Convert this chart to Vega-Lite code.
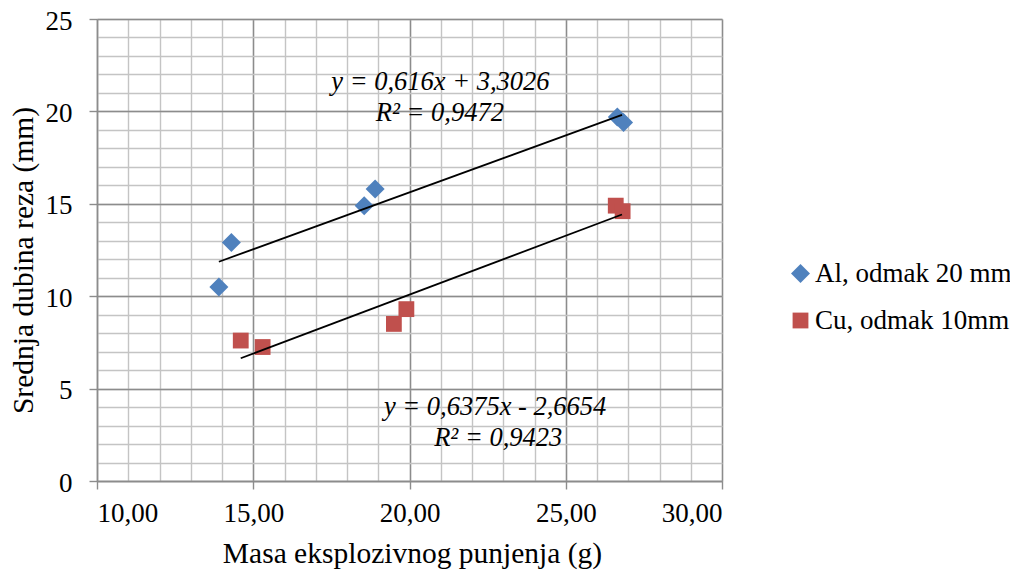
{
  "$schema": "https://vega.github.io/schema/vega-lite/v6.json",
  "width": 625,
  "height": 462,
  "autosize": {"type": "none"},
  "padding": {"left": 97, "top": 19, "right": 288, "bottom": 93},
  "background": "white",
  "config": {
    "view": {"stroke": null},
    "font": "'Liberation Serif', 'Times New Roman', serif",
    "axis": {"labelFont": "'Liberation Serif', 'Times New Roman', serif", "titleFont": "'Liberation Serif', 'Times New Roman', serif", "labelColor": "#000000", "titleColor": "#000000", "titleFontWeight": "normal"},
    "legend": {"labelFont": "'Liberation Serif', 'Times New Roman', serif", "labelColor": "#000000"}
  },
  "datasets": {
    "points": [
      {"serija": "Al, odmak 20 mm", "masa": 13.9, "dubina": 10.5},
      {"serija": "Al, odmak 20 mm", "masa": 14.3, "dubina": 12.9},
      {"serija": "Al, odmak 20 mm", "masa": 18.55, "dubina": 14.9},
      {"serija": "Al, odmak 20 mm", "masa": 18.9, "dubina": 15.8},
      {"serija": "Al, odmak 20 mm", "masa": 26.65, "dubina": 19.7},
      {"serija": "Al, odmak 20 mm", "masa": 26.85, "dubina": 19.4},
      {"serija": "Cu, odmak 10mm", "masa": 14.6, "dubina": 7.6},
      {"serija": "Cu, odmak 10mm", "masa": 15.3, "dubina": 7.25},
      {"serija": "Cu, odmak 10mm", "masa": 19.5, "dubina": 8.5},
      {"serija": "Cu, odmak 10mm", "masa": 19.9, "dubina": 9.3},
      {"serija": "Cu, odmak 10mm", "masa": 26.6, "dubina": 14.9},
      {"serija": "Cu, odmak 10mm", "masa": 26.82, "dubina": 14.6}
    ],
    "trend": [
      {"serija": "Al, odmak 20 mm", "masa": 13.9, "dubina": 11.865},
      {"serija": "Al, odmak 20 mm", "masa": 26.8, "dubina": 19.81},
      {"serija": "Cu, odmak 10mm", "masa": 14.6, "dubina": 6.642},
      {"serija": "Cu, odmak 10mm", "masa": 26.8, "dubina": 14.42}
    ],
    "labels": [
      {"masa": 20.99, "dubina": 21.61, "tekst": "y = 0,616x + 3,3026"},
      {"masa": 20.97, "dubina": 19.91, "tekst": "R² = 0,9472"},
      {"masa": 22.74, "dubina": 4.02, "tekst": "y = 0,6375x - 2,6654"},
      {"masa": 22.84, "dubina": 2.33, "tekst": "R² = 0,9423"}
    ]
  },
  "layer": [
    {
      "data": {"name": "points"},
      "mark": {"type": "point", "filled": true, "opacity": 1, "strokeWidth": 0},
      "encoding": {
        "x": {"field": "masa", "type": "quantitative", "scale": {"domain": [10, 30], "nice": false, "zero": false},
          "axis": {"orient": "bottom", "values": [10,11,12,13,14,15,16,17,18,19,20,21,22,23,24,25,26,27,28,29,30], "grid": true, "gridColor": "#c4c4c4", "gridWidth": 1.4, "labels": false, "ticks": false, "domain": false, "title": null}},
        "y": {"field": "dubina", "type": "quantitative", "scale": {"domain": [0, 25], "nice": false, "zero": false},
          "axis": {"orient": "left", "values": [0,1,2,3,4,5,6,7,8,9,10,11,12,13,14,15,16,17,18,19,20,21,22,23,24,25], "grid": true, "gridColor": "#c4c4c4", "gridWidth": 1.4, "labels": false, "ticks": false, "domain": false, "title": null}},
        "color": {"field": "serija", "type": "nominal", "title": null,
          "scale": {"domain": ["Al, odmak 20 mm", "Cu, odmak 10mm"], "range": ["#4F81BD", "#C0504D"]},
          "legend": {"orient": "none", "legendX": 690, "legendY": 241, "labelFontSize": 27, "symbolSize": 240, "symbolOpacity": 1, "symbolStrokeWidth": 0, "labelOffset": 1, "rowPadding": 19, "padding": 0, "labelLimit": 400}},
        "shape": {"field": "serija", "type": "nominal", "title": null,
          "scale": {"domain": ["Al, odmak 20 mm", "Cu, odmak 10mm"], "range": ["diamond", "square"]}},
        "size": {"field": "serija", "type": "nominal", "legend": null,
          "scale": {"domain": ["Al, odmak 20 mm", "Cu, odmak 10mm"], "range": [360, 250]}}
      }
    },
    {
      "data": {"name": "trend"},
      "mark": {"type": "line", "color": "#000000", "strokeWidth": 1.8},
      "encoding": {
        "x": {"field": "masa", "type": "quantitative",
          "axis": {"orient": "bottom", "values": [10, 15, 20, 25, 30], "grid": true, "gridColor": "#8c8c8c", "gridWidth": 1.4, "domain": true, "domainColor": "#8c8c8c", "domainWidth": 1.4, "ticks": true, "tickSize": 8, "tickColor": "#8c8c8c", "tickWidth": 1.4, "labelFontSize": 27, "labelPadding": 11, "labelExpr": "replace(format(datum.value, '.2f'), '.', ',')", "title": "Masa eksplozivnog punjenja (g)", "titleFontSize": 29.5, "titleX": 315, "titleY": 81, "titleBaseline": "alphabetic", "titleAlign": "center"}},
        "y": {"field": "dubina", "type": "quantitative",
          "axis": {"orient": "left", "values": [0, 5, 10, 15, 20, 25], "grid": true, "gridColor": "#8c8c8c", "gridWidth": 1.4, "domain": true, "domainColor": "#8c8c8c", "domainWidth": 1.4, "ticks": true, "tickSize": 8, "tickColor": "#8c8c8c", "tickWidth": 1.4, "labelFontSize": 27, "labelPadding": 17, "labelOffset": 2, "format": "d", "title": "Srednja dubina reza (mm)", "titleFontSize": 29.5, "titleX": -65, "titleY": 241, "titleAngle": -90, "titleBaseline": "alphabetic", "titleAlign": "center"}},
        "detail": {"field": "serija", "type": "nominal"}
      }
    },
    {
      "data": {"name": "labels"},
      "mark": {"type": "text", "fontSize": 26.5, "fontStyle": "italic", "font": "'Liberation Serif', 'Times New Roman', serif", "align": "center", "baseline": "middle", "color": "#000000"},
      "encoding": {
        "x": {"field": "masa", "type": "quantitative", "axis": null},
        "y": {"field": "dubina", "type": "quantitative", "axis": null},
        "text": {"field": "tekst", "type": "nominal"}
      }
    }
  ],
  "resolve": {"axis": {"x": "independent", "y": "independent"}}
}
